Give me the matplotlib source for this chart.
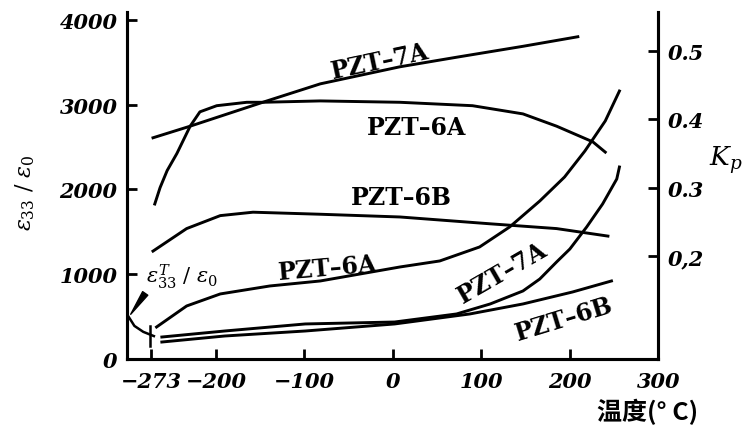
import matplotlib
matplotlib.use("Agg")
import matplotlib.pyplot as plt

plt.rcParams['font.family'] = ['DejaVu Serif']
plt.rcParams['mathtext.fontset'] = 'dejavuserif'

# dielectric constant eps33/eps0 (left axis)
eps_6A_T = [-267, -233, -195, -139, -82, 8, 53, 98, 132, 166, 194, 217, 240, 256]
eps_6A = [377, 625, 767, 861, 920, 1085, 1156, 1321, 1557, 1863, 2146, 2453, 2807, 3160]

eps_7A_T = [-261, -190, -99, 2, 72, 110, 147, 166, 185, 200, 219, 237, 253, 256]
eps_7A = [259, 330, 413, 436, 531, 649, 802, 943, 1144, 1297, 1557, 1828, 2123, 2264]

eps_6B_T = [-261, -190, -99, 2, 87, 147, 203, 247]
eps_6B = [200, 271, 330, 413, 531, 649, 790, 920]

# coupling factor Kp (right axis)
kp_7A_T = [-271, -229, -147, -82, 8, 72, 147, 209]
kp_7A = [0.373, 0.390, 0.425, 0.452, 0.477, 0.491, 0.507, 0.521]

kp_6A_T = [-269, -263, -255, -244, -229, -218, -199, -165, -147, -82, 8, 90, 147, 185, 226, 240]
kp_6A = [0.276, 0.300, 0.325, 0.350, 0.390, 0.411, 0.420, 0.425, 0.425, 0.427, 0.425, 0.420, 0.408, 0.390, 0.367, 0.352]

kp_6B_T = [-271, -233, -195, -158, -82, 8, 110, 185, 243]
kp_6B = [0.207, 0.240, 0.259, 0.264, 0.261, 0.257, 0.247, 0.240, 0.229]

# little hook near the left axis
hook_T = [-299, -292, -282, -270]
hook_v = [505, 390, 320, 270]

x_ticks = [-273, -200, -100, 0, 100, 200, 300]
y_ticks = [0, 1000, 2000, 3000, 4000]
k_ticks = [0.2, 0.3, 0.4, 0.5]
k_labels = ['0,2', '0.3', '0.4', '0.5']

lw = 2.1
fig = plt.figure(figsize=(7.49, 4.39), dpi=100)
ax = fig.add_axes([0.170, 0.180, 0.709, 0.790])
ax2 = ax.twinx()

ax.plot(eps_6A_T, eps_6A, 'k-', lw=lw)
ax.plot(eps_7A_T, eps_7A, 'k-', lw=lw)
ax.plot(eps_6B_T, eps_6B, 'k-', lw=lw)
ax.plot(hook_T, hook_v, 'k-', lw=1.8)
ax.plot([-274, -274], [150, 390], 'k-', lw=1.8)

ax2.plot(kp_7A_T, kp_7A, 'k-', lw=lw)
ax2.plot(kp_6A_T, kp_6A, 'k-', lw=lw)
ax2.plot(kp_6B_T, kp_6B, 'k-', lw=lw)

ax.set_xlim(-300, 300)
ax.set_ylim(0, 4090)
ax2.set_ylim(0.049, 0.557)

ax.set_xticks(x_ticks)
ax.set_xticklabels([str(t).replace('-', '\u2212') for t in x_ticks])
ax.set_yticks(y_ticks)
ax.set_yticklabels([str(v) for v in y_ticks])
ax2.set_yticks(k_ticks)
ax2.set_yticklabels(k_labels)

for a in (ax, ax2):
    for s in a.spines.values():
        s.set_linewidth(2.2)
    a.spines['top'].set_visible(False)
    a.tick_params(direction='in', length=7, width=2)
ax.tick_params(axis='x', pad=9)
ax.tick_params(axis='y', pad=7)
ax2.tick_params(axis='y', pad=7)
for lab in ax.get_xticklabels() + ax.get_yticklabels() + ax2.get_yticklabels():
    lab.set_fontsize(15)
    lab.set_fontstyle('italic')
    lab.set_fontweight('bold')

txt = dict(fontsize=17, fontweight='bold', ha='center', va='center')
ax.text(-15, 3514, 'PZT\u20137A', rotation=12, **txt)
ax.text(27, 2736, 'PZT\u20136A', **txt)
ax.text(10, 1910, 'PZT\u20136B', **txt)
ax.text(-73, 1073, 'PZT\u20136A', rotation=5, **txt)
ax.text(124, 1026, 'PZT\u20137A', rotation=30, **txt)
ax.text(194, 472, 'PZT\u20136B', rotation=17, **txt)
ax.text(-238, 979, r'$\epsilon_{33}^{T}\ /\ \epsilon_0$', fontsize=15, ha='center', va='center')
ax.annotate('', xy=(-298, 500), xytext=(-278, 800),
            arrowprops=dict(arrowstyle='wedge,tail_width=0.45', fc='black', ec='black'))

fig.text(25 / 749, 1 - 193 / 439, r'$\epsilon_{33}\ /\ \epsilon_0$', rotation=90,
         fontsize=16, ha='center', va='center')
fig.text(726 / 749, 1 - 160 / 439, r'$K_p$', fontsize=19, ha='center', va='center')
fig.text(648 / 749, 1 - 412 / 439, '温度(° C)', fontsize=18, fontweight='bold',
         family=['Noto Sans CJK SC', 'DejaVu Sans'], ha='center', va='center')

fig.savefig('out.png', dpi=100)
